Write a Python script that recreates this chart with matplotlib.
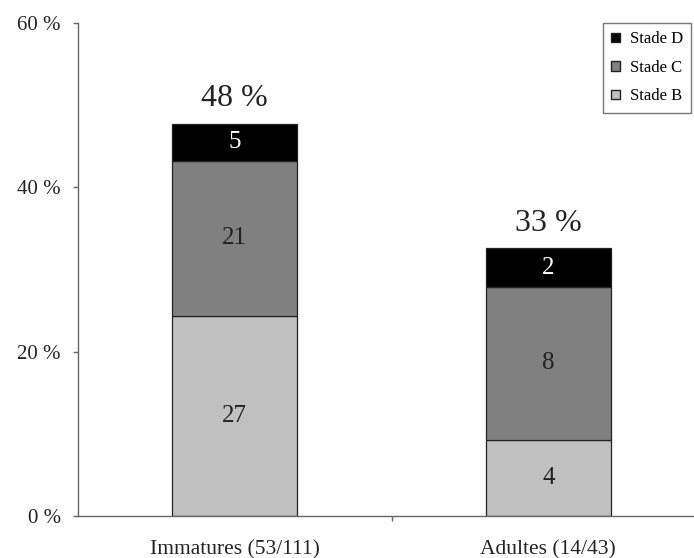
import matplotlib
matplotlib.use("Agg")
import matplotlib.pyplot as plt
from matplotlib.patches import Patch

plt.rcParams["font.family"] = ["Liberation Serif", "DejaVu Serif"]

categories = ["Immatures (53/111)", "Adultes (14/43)"]
totals = [111, 43]
stade_b = [27, 4]
stade_c = [21, 8]
stade_d = [5, 2]
top_labels = ["48 %", "33 %"]

colors = {"B": "#c0c0c0", "C": "#808080", "D": "#000000"}

pct_b = [n / t * 100 for n, t in zip(stade_b, totals)]
pct_c = [n / t * 100 for n, t in zip(stade_c, totals)]
pct_d = [n / t * 100 for n, t in zip(stade_d, totals)]

fig = plt.figure(figsize=(6.94, 5.58), dpi=100)
ax = fig.add_axes([0.1124, 0.075, 0.9035, 0.884])

x = list(range(len(categories)))
width = 0.4
bottom_c = pct_b
bottom_d = [b + c for b, c in zip(pct_b, pct_c)]
tops = [d + p for d, p in zip(bottom_d, pct_d)]

ax.bar(x, pct_b, width, color=colors["B"], edgecolor="#222222", linewidth=0.9)
ax.bar(x, pct_c, width, bottom=bottom_c, color=colors["C"], edgecolor="#222222", linewidth=0.9)
ax.bar(x, pct_d, width, bottom=bottom_d, color=colors["D"], edgecolor="#222222", linewidth=0.9)

for i in x:
    ax.text(i, pct_b[i] / 2, str(stade_b[i]), ha="center", va="center", fontsize=18, color="#222222")
    ax.text(i, bottom_c[i] + pct_c[i] / 2, str(stade_c[i]), ha="center", va="center", fontsize=18, color="#222222")
    ax.text(i, bottom_d[i] + pct_d[i] / 2, str(stade_d[i]), ha="center", va="center", fontsize=18, color="white")
    ax.annotate(top_labels[i], (i, tops[i]), xytext=(0, 18), textcoords="offset points",
                ha="center", va="center", fontsize=23, color="#222222")

ax.set_xlim(-0.5, 1.5)
ax.set_ylim(0, 60)
ax.set_yticks([0, 20, 40, 60])
ax.set_yticklabels(["0 %", "20 %", "40 %", "60 %"], fontsize=15, color="#222222")
ax.set_xticks([0.5])
ax.set_xticklabels([""])
ax.tick_params(axis="both", colors="#666666", length=3.5, width=1)
ax.tick_params(axis="y", labelcolor="#222222", pad=9)

for i, name in enumerate(categories):
    ax.annotate(name, (i, 0), xytext=(0, -17), textcoords="offset points",
                ha="center", va="top", fontsize=15.5, color="#222222")

for side in ["top", "right"]:
    ax.spines[side].set_visible(False)
for side in ["left", "bottom"]:
    ax.spines[side].set_color("#666666")
    ax.spines[side].set_linewidth(1)

handles = [
    Patch(facecolor=colors["D"], edgecolor="#222222", label="Stade D"),
    Patch(facecolor=colors["C"], edgecolor="#222222", label="Stade C"),
    Patch(facecolor=colors["B"], edgecolor="#222222", label="Stade B"),
]
leg = fig.legend(handles=handles, loc="upper left", bbox_to_anchor=(0.869, 0.959),
                 fontsize=12, frameon=True, fancybox=False, edgecolor="#555555",
                 handlelength=0.5, handleheight=0.5, handletextpad=0.6,
                 labelspacing=0.75, borderpad=0.5, borderaxespad=0)
leg.get_frame().set_linewidth(1)

fig.savefig("out.png", dpi=100)
